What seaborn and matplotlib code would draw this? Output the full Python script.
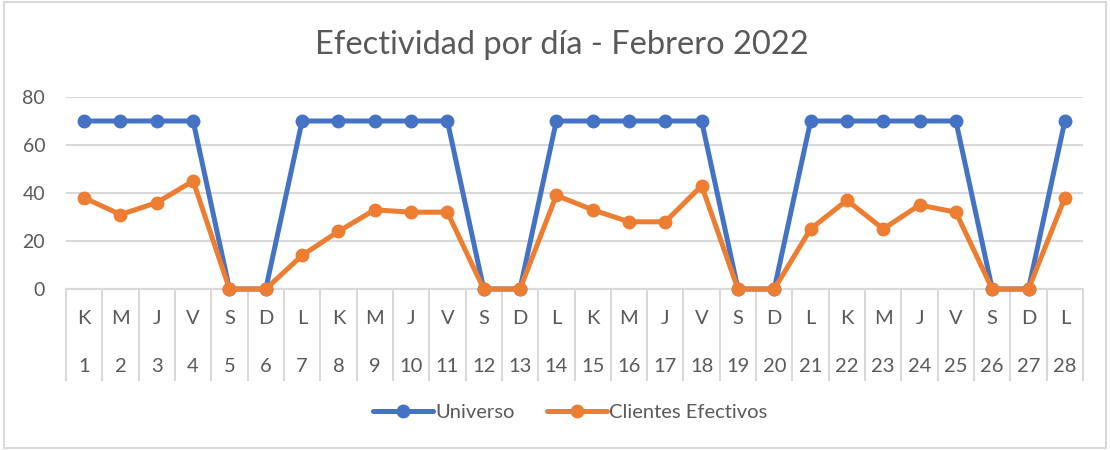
import numpy as np
import pandas as pd
import matplotlib
matplotlib.use("Agg")
import matplotlib.pyplot as plt
from matplotlib.patches import Rectangle
from matplotlib.transforms import blended_transform_factory
import seaborn as sns

# ---- data ----
day_letters = ["K", "M", "J", "V", "S", "D", "L"] * 4
day_numbers = list(range(1, 29))
universo = [70, 70, 70, 70, 0, 0, 70, 70, 70, 70, 70, 0, 0, 70,
            70, 70, 70, 70, 0, 0, 70, 70, 70, 70, 70, 0, 0, 70]
clientes = [38, 31, 36, 45, 0, 0, 14, 24, 33, 32, 32, 0, 0, 39,
            33, 28, 28, 43, 0, 0, 25, 37, 25, 35, 32, 0, 0, 38]
series_names = ["Universo", "Clientes Efectivos"]
title = "Efectividad por día - Febrero 2022"

sns.set_theme(style="white")
plt.rcParams["font.family"] = ["Lato", "DejaVu Sans"]

TXT = "#595959"
GRID = "#D9D9D9"
colors = {"Universo": "#4472C4", "Clientes Efectivos": "#ED7D31"}

pos = np.arange(len(day_numbers))
df = pd.DataFrame({
    "pos": np.concatenate([pos, pos]),
    "valor": universo + clientes,
    "serie": [series_names[0]] * len(pos) + [series_names[1]] * len(pos),
})

fig = plt.figure(figsize=(11.1, 4.5), dpi=100)
ax = fig.add_axes([66 / 1110, 161 / 450, (1083 - 66) / 1110, (289 - 97) / 450])

sns.lineplot(data=df, x="pos", y="valor", hue="serie", palette=colors,
             hue_order=series_names, marker="o", markersize=10,
             markeredgewidth=0, linewidth=3.6, legend=False, ax=ax,
             clip_on=False, zorder=3)

ax.set_xlim(-0.5, len(pos) - 0.5)
ax.set_ylim(0, 80)
ax.set_yticks([0, 20, 40, 60, 80])
ax.yaxis.grid(True, color=GRID, linewidth=1.5)
ax.set_axisbelow(True)
for s in ["top", "right", "left"]:
    ax.spines[s].set_visible(False)
ax.spines["bottom"].set_color(GRID)
ax.spines["bottom"].set_linewidth(1.5)
ax.set_xlabel("")
ax.set_ylabel("")

ax.tick_params(axis="y", length=0, pad=15, labelsize=14, labelcolor=TXT)
ax.set_xticks(pos)
ax.set_xticklabels([])
ax.tick_params(axis="x", which="major", length=0)
ax.set_xticks(np.arange(-0.5, len(pos)), minor=True)
ax.tick_params(axis="x", which="minor", bottom=True, length=66, width=1.5,
               color=GRID, direction="out")

tr = blended_transform_factory(ax.transData, fig.transFigure)
for i, (l, n) in enumerate(zip(day_letters, day_numbers)):
    ax.text(i, 1 - 318 / 450, l, transform=tr, ha="center", va="center",
            fontsize=14.5, color=TXT)
    ax.text(i, 1 - 366 / 450, str(n), transform=tr, ha="center", va="center",
            fontsize=14.5, color=TXT)

fig.text(562 / 1110, 1 - 45 / 450, title, ha="center", va="center",
         fontsize=23.5, color=TXT)

handles = ax.lines[:2]
fig.legend(handles, series_names, loc="center", bbox_to_anchor=(570 / 1110, 1 - 412 / 450),
           ncol=2, frameon=False, fontsize=14.5, labelcolor=TXT, handlelength=3.0,
           columnspacing=1.6, handletextpad=0.1)

fig.patches.append(Rectangle((4 / 1110, 2 / 450), 1102 / 1110, 446 / 450,
                             transform=fig.transFigure, fill=False,
                             edgecolor=GRID, linewidth=1.5))

fig.savefig("out.png", dpi=100)
